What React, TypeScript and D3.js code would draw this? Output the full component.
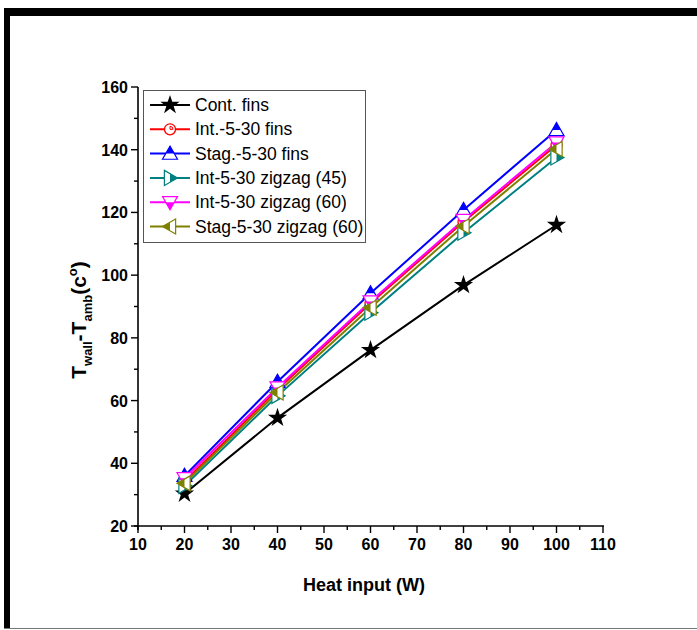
import React, { useEffect, useRef } from "react";
import * as d3 from "d3";

// Heat input (W)
const heatInput = [20, 40, 60, 80, 100];

// T_wall - T_amb for each fin layout
const contFins = [30.3, 54.5, 76.1, 96.8, 116];
const intFins = [34.2, 63.5, 91, 117, 141.5];
const stagFins = [36, 66, 94.2, 120.8, 146.3];
const intZigzag45 = [32.8, 61.5, 88, 113.5, 137.5];
const intZigzag60 = [35.2, 64.2, 91.6, 117.6, 142.3];
const stagZigzag60 = [33.6, 62.6, 89.6, 115.6, 140.2];

const seriesNames = [
  "Cont. fins",
  "Int.-5-30 fins",
  "Stag.-5-30 fins",
  "Int-5-30 zigzag (45)",
  "Int-5-30 zigzag (60)",
  "Stag-5-30 zigzag (60)",
];
const seriesValues = [contFins, intFins, stagFins, intZigzag45, intZigzag60, stagZigzag60];
const seriesColors = ["#000000", "#ff0000", "#0000ff", "#008080", "#ff00ff", "#808000"];
const seriesSymbols = ["star", "circle", "up", "right", "down", "left"];

const xTicks = [10, 20, 30, 40, 50, 60, 70, 80, 90, 100, 110];
const yTicks = [20, 40, 60, 80, 100, 120, 140, 160];

const W = 697;
const H = 630;

const poly = (pts) => "M" + pts.map((p) => p.join(",")).join("L") + "Z";

// draw one symbol centred at (cx, cy); triangles are half filled like Origin's symbols
function drawSymbol(g, kind, color, cx, cy) {
  const m = g.append("g").attr("transform", `translate(${cx},${cy})`);
  const r = 7.5;
  if (kind === "star") {
    m.append("path")
      .attr("d", d3.symbol().type(d3.symbolStar).size(115)())
      .attr("fill", color);
    return;
  }
  if (kind === "circle") {
    m.append("circle").attr("r", 5.5).attr("fill", "white").attr("stroke", color).attr("stroke-width", 1.3);
    m.append("path")
      .attr("d", d3.arc()({ innerRadius: 0, outerRadius: 3, startAngle: 0, endAngle: Math.PI / 2 }))
      .attr("fill", "none")
      .attr("stroke", color)
      .attr("stroke-width", 1);
    return;
  }
  const a = 0.75 * r;
  const c = r / (r + a); // fraction of edge reached at centre line
  // triangle pointing up, then rotated for each direction
  const full = [[0, -r], [r, a], [-r, a]];
  const half = [[0, -r], [r * c, 0], [-r * c, 0]];
  const angle = { up: 0, right: 90, down: 180, left: 270 }[kind];
  const s = m.append("g").attr("transform", `rotate(${angle})`);
  s.append("path").attr("d", poly(full)).attr("fill", "white");
  s.append("path").attr("d", poly(half)).attr("fill", color);
  s.append("path").attr("d", poly(full)).attr("fill", "none").attr("stroke", color).attr("stroke-width", 1.2);
}

const App = () => {
  const ref = useRef(null);

  useEffect(() => {
    const svg = d3.select(ref.current);
    svg.selectAll("*").remove();

    svg.append("rect").attr("width", W).attr("height", H).attr("fill", "white");

    // frame around the figure
    svg.append("rect").attr("x", 4).attr("y", 8).attr("width", W).attr("height", 8).attr("fill", "black");
    svg.append("rect").attr("x", 4).attr("y", 8).attr("width", 6).attr("height", 620).attr("fill", "black");
    svg.append("line").attr("x1", 4).attr("x2", W).attr("y1", 628.5).attr("y2", 628.5).attr("stroke", "#777").attr("stroke-width", 1);

    const x = d3.scaleLinear().domain([10, 110]).range([138, 603]);
    const y = d3.scaleLinear().domain([20, 160]).range([526, 87]);

    const font = "Arial, 'Liberation Sans', sans-serif";

    // x axis
    const xAxis = svg.append("g").attr("transform", `translate(0,${y(20)})`);
    xAxis.append("line").attr("x1", x(10) - 4).attr("x2", x(110) + 1).attr("stroke", "black").attr("stroke-width", 1.6);
    d3.range(10, 111, 5).forEach((v) => {
      const major = v % 10 === 0;
      xAxis.append("line")
        .attr("x1", x(v)).attr("x2", x(v))
        .attr("y1", 0).attr("y2", major ? 7 : 4)
        .attr("stroke", "black").attr("stroke-width", 1.4);
    });
    xAxis.selectAll("text.tick")
      .data(xTicks)
      .enter()
      .append("text")
      .attr("x", (d) => x(d))
      .attr("y", 24)
      .attr("text-anchor", "middle")
      .attr("font-family", font)
      .attr("font-weight", "bold")
      .attr("font-size", 16)
      .text((d) => d);

    // y axis
    const yAxis = svg.append("g").attr("transform", `translate(${x(10)},0)`);
    yAxis.append("line").attr("y1", y(160)).attr("y2", y(20) + 4).attr("stroke", "black").attr("stroke-width", 1.6);
    d3.range(20, 161, 10).forEach((v) => {
      const major = v % 20 === 0;
      yAxis.append("line")
        .attr("x1", major ? -7 : -4).attr("x2", 0)
        .attr("y1", y(v)).attr("y2", y(v))
        .attr("stroke", "black").attr("stroke-width", 1.4);
    });
    yAxis.selectAll("text.tick")
      .data(yTicks)
      .enter()
      .append("text")
      .attr("x", -10)
      .attr("y", (d) => y(d) + 6)
      .attr("text-anchor", "end")
      .attr("font-family", font)
      .attr("font-weight", "bold")
      .attr("font-size", 16)
      .text((d) => d);

    // axis titles
    svg.append("text")
      .attr("x", 364)
      .attr("y", 591)
      .attr("text-anchor", "middle")
      .attr("font-family", font)
      .attr("font-weight", "bold")
      .attr("font-size", 18)
      .text("Heat input (W)");

    const yt = svg.append("text")
      .attr("transform", `translate(86,320) rotate(-90)`)
      .attr("text-anchor", "middle")
      .attr("font-family", font)
      .attr("font-weight", "bold")
      .attr("font-size", 21);
    yt.append("tspan").text("T");
    yt.append("tspan").attr("font-size", 13).attr("dy", 6).text("wall");
    yt.append("tspan").attr("dy", -6).text("-T");
    yt.append("tspan").attr("font-size", 13).attr("dy", 6).text("amb");
    yt.append("tspan").attr("dy", -6).text("(c");
    yt.append("tspan").attr("font-size", 13).attr("dy", -9).text("o");
    yt.append("tspan").attr("dy", 9).text(")");

    // series lines and markers
    const line = d3.line().x((d) => x(d[0])).y((d) => y(d[1]));
    seriesValues.forEach((vals, i) => {
      const pts = heatInput.map((h, j) => [h, vals[j]]);
      svg.append("path")
        .attr("d", line(pts))
        .attr("fill", "none")
        .attr("stroke", seriesColors[i])
        .attr("stroke-width", 2);
    });
    seriesValues.forEach((vals, i) => {
      heatInput.forEach((h, j) => drawSymbol(svg, seriesSymbols[i], seriesColors[i], x(h), y(vals[j])));
    });

    // legend
    const lg = svg.append("g");
    lg.append("rect")
      .attr("x", 143.5).attr("y", 90.5)
      .attr("width", 222).attr("height", 152)
      .attr("fill", "white").attr("stroke", "#555").attr("stroke-width", 1);
    seriesNames.forEach((name, i) => {
      const cy = 105 + i * 24.3;
      lg.append("line").attr("x1", 150).attr("x2", 190).attr("y1", cy).attr("y2", cy)
        .attr("stroke", seriesColors[i]).attr("stroke-width", 2);
      drawSymbol(lg, seriesSymbols[i], seriesColors[i], 170, cy);
      lg.append("text")
        .attr("x", 195).attr("y", cy + 6)
        .attr("font-family", font)
        .attr("font-size", 17.5)
        .text(name);
    });
  }, []);

  return <svg ref={ref} width={W} height={H} style={{ position: "absolute", left: 0, top: 0 }} />;
};

export default App;
